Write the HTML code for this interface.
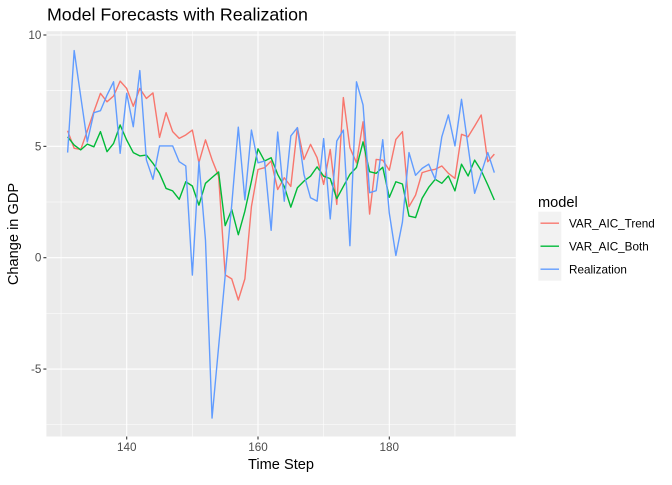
<!DOCTYPE html>
<html><head><meta charset="utf-8"><style>
body{margin:0;background:#fff}
svg text{font-family:"Liberation Sans",sans-serif}
</style></head><body>
<svg id="chart" width="672" height="480" xmlns="http://www.w3.org/2000/svg">
<rect width="672" height="480" fill="#fff"/>
<text x="47" y="20.5" font-size="17.8" fill="#000">Model Forecasts with Realization</text>
<rect x="46.4" y="31.2" width="469.4" height="405.3" fill="#EBEBEB"/>
<g id="grid"></g>
<g id="series"></g>
<g id="axes"></g>
<text x="281" y="469" font-size="14.6" text-anchor="middle">Time Step</text>
<text transform="translate(18,234) rotate(-90)" font-size="14.6" text-anchor="middle">Change in GDP</text>
<g>
<text x="538" y="207" font-size="14.6">model</text>
<rect x="538.3" y="211.7" width="23" height="69" fill="#F2F2F2"/>
<line x1="540.5" x2="559" y1="223.2" y2="223.2" stroke="#F8766D" stroke-width="1.4"/>
<line x1="540.5" x2="559" y1="246.2" y2="246.2" stroke="#00BA38" stroke-width="1.4"/>
<line x1="540.5" x2="559" y1="269.2" y2="269.2" stroke="#619CFF" stroke-width="1.4"/>
<text x="569" y="227.5" font-size="11.7">VAR_AIC_Trend</text>
<text x="569" y="250.5" font-size="11.7">VAR_AIC_Both</text>
<text x="569" y="273.5" font-size="11.7">Realization</text>
</g>
</svg>
<script>
const startStep = 131;
const trendValues = [5.7,4.91,4.86,5.7,6.56,7.38,7.0,7.26,7.93,7.6,6.8,7.6,7.15,7.4,5.4,6.51,5.66,5.36,5.51,5.73,4.27,5.29,4.4,3.66,-0.77,-0.95,-1.9,-0.95,2.3,3.96,4.04,4.34,3.06,3.59,3.2,5.84,4.41,5.09,4.49,3.29,4.86,2.39,7.19,4.94,4.26,6.1,1.96,4.41,4.38,3.93,5.31,5.66,2.29,2.81,3.82,3.91,3.97,4.12,3.79,3.56,5.54,5.43,5.91,6.41,4.31,4.65];
const bothValues = [5.43,5.06,4.84,5.1,4.98,5.66,4.76,5.13,5.96,5.28,4.72,4.57,4.61,4.24,3.79,3.11,3.0,2.62,3.41,3.22,2.36,3.34,3.6,3.85,1.44,2.16,1.03,2.09,3.44,4.89,4.34,4.49,3.74,3.2,2.27,3.14,3.44,3.66,4.08,3.66,3.55,2.65,3.2,3.74,4.05,5.2,3.86,3.79,4.06,2.71,3.41,3.31,1.87,1.8,2.67,3.16,3.52,3.34,3.67,3.0,4.2,3.67,4.38,3.91,3.27,2.59];
const realValues = [4.72,9.3,7.23,5.2,6.51,6.6,7.3,7.9,4.69,7.38,5.88,8.4,4.39,3.52,5.02,5.02,5.02,4.31,4.12,-0.78,4.31,0.79,-7.2,-4.0,-0.8,2.38,5.86,2.6,5.73,4.26,4.34,1.23,5.64,2.54,5.47,5.84,3.74,2.69,2.54,5.35,1.74,5.24,5.73,0.54,7.9,6.86,2.92,3.01,5.3,2.0,0.1,1.6,4.72,3.7,4.01,4.2,3.52,5.43,6.41,5.02,7.11,5.0,2.89,3.79,4.72,3.82];
const xTicks = [140,160,180];
const xMinor = [130,150,170,190];
const yTicks = [-5,0,5,10];
const yMinor = [-7.5,-2.5,2.5,7.5];

const NS = "http://www.w3.org/2000/svg";
const PL = 46.4, PR = 515.8, PT = 31.2, PB = 436.5;
const xScale = v => 126.7 + (v - 140) * 6.565;
const yScale = v => 257.7 - v * 22.27;
function mk(tag, attrs, parent) {
  const e = document.createElementNS(NS, tag);
  for (const k in attrs) e.setAttribute(k, attrs[k]);
  parent.appendChild(e);
  return e;
}
const grid = document.getElementById('grid');
const axes = document.getElementById('axes');
const series = document.getElementById('series');
yMinor.forEach(v => {
  const l = mk('line', {x1: PL, x2: PR, y1: yScale(v), y2: yScale(v), stroke: '#fff', 'stroke-width': 0.55}, grid);
  
  
});
xMinor.forEach(v => {
  const l = mk('line', {x1: xScale(v), x2: xScale(v), y1: PT, y2: PB, stroke: '#fff', 'stroke-width': 0.55}, grid);
  
  
});
yTicks.forEach(v => {
  const y = yScale(v);
  const l = mk('line', {x1: PL, x2: PR, y1: y, y2: y, stroke: '#fff', 'stroke-width': 1.1}, grid);
  
  
  mk('line', {x1: PL - 3, x2: PL, y1: y, y2: y, stroke: '#333', 'stroke-width': 1.1}, axes);
  const t = mk('text', {x: PL - 5, y: y + 4, 'font-size': 11.7, fill: '#4D4D4D', 'text-anchor': 'end'}, axes);
  
  
  t.textContent = v;
});
xTicks.forEach(v => {
  const x = xScale(v);
  const l = mk('line', {x1: x, x2: x, y1: PT, y2: PB, stroke: '#fff', 'stroke-width': 1.1}, grid);
  
  
  mk('line', {x1: x, x2: x, y1: PB, y2: PB + 3, stroke: '#333', 'stroke-width': 1.1}, axes);
  const t = mk('text', {x: x, y: PB + 14.5, 'font-size': 11.7, fill: '#4D4D4D', 'text-anchor': 'middle'}, axes);
  
  
  t.textContent = v;
});
function drawLine(vals, color, name) {
  const pts = vals.map((v, i) => xScale(startStep + i).toFixed(2) + ',' + yScale(v).toFixed(2)).join(' ');
  const p = mk('polyline', {points: pts, fill: 'none', stroke: color, 'stroke-width': 1.4, 'stroke-linejoin': 'round'}, series);
  
  
}
drawLine(trendValues, '#F8766D', 'line-var-aic-trend');
drawLine(bothValues, '#00BA38', 'line-var-aic-both');
drawLine(realValues, '#619CFF', 'line-realization');
</script>
</body></html>
